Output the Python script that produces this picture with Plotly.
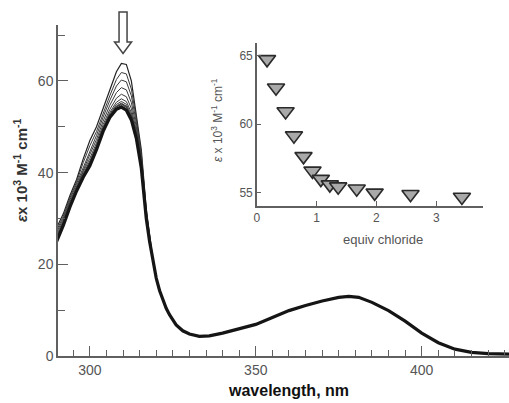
import plotly.graph_objects as go

# ---- data ----
# lowest spectrum (final, after chloride addition)
wl = [290, 292, 294, 296, 298, 300, 302, 304, 306, 308, 309.5, 311, 312.5, 314, 315.5,
      317, 318, 319, 320, 321, 322, 323, 324, 326, 328, 330, 333, 336, 340, 345, 350,
      355, 360, 365, 370, 375, 378, 381, 385, 390, 395, 400, 405, 410, 415, 420, 426.5]
eps_final = [25, 28.5, 32.5, 36, 39, 41.5, 45, 49, 52, 53.8, 54.3, 53.6, 51.5, 47.5, 41,
             30, 25, 20.5, 17, 14.3, 12.2, 10.4, 9, 6.8, 5.5, 4.8, 4.3, 4.4, 5.0, 5.9, 6.9,
             8.4, 9.9, 11.0, 12.0, 12.8, 13.0, 12.8, 11.7, 9.9, 7.6, 5.0, 2.9, 1.5, 0.8, 0.5, 0.4]
# highest spectrum (initial, no chloride)
eps_initial = [28, 31, 35, 38.5, 43, 47, 50, 54, 58, 62, 63.8, 63.6, 60, 53, 45,
               32, 26, 21, 17, 14.3, 12.2, 10.4, 9, 6.8, 5.5, 4.8, 4.3, 4.4, 5.0, 5.9, 6.9,
               8.4, 9.9, 11.0, 12.0, 12.8, 13.0, 12.8, 11.7, 9.9, 7.6, 5.0, 2.9, 1.5, 0.8, 0.5, 0.4]

# inset: titration
equiv = [0.17, 0.32, 0.48, 0.62, 0.78, 0.93, 1.07, 1.22, 1.36, 1.67, 1.97, 2.57, 3.43]
eps_310 = [64.73, 62.66, 60.93, 59.17, 57.66, 56.6, 56.0, 55.6, 55.45, 55.3, 55.0, 54.9, 54.7]

x_ticks_main = [300, 350, 400]
y_ticks_main = [0, 20, 40, 60]
x_ticks_inset = [0, 1, 2, 3]
y_ticks_inset = [55, 60, 65]

fig = go.Figure()

# family of spectra (one per titration point)
vmax, vmin = max(eps_310), min(eps_310)
n = len(eps_310)
for i, v in enumerate(eps_310):
    f = (v - vmin) / (vmax - vmin)
    ys = [b + f * (t - b) for b, t in zip(eps_final, eps_initial)]
    if i == n - 1:
        ln = dict(color="#151515", width=3.2)
    elif i == 0:
        ln = dict(color="#222222", width=1.2)
    else:
        ln = dict(color="#3a3a3a", width=1.0)
    fig.add_trace(go.Scatter(
        x=wl, y=ys, mode="lines", line=ln,
        hoverinfo="skip", showlegend=False, xaxis="x", yaxis="y"))

# inset points
fig.add_trace(go.Scatter(
    x=equiv, y=eps_310, mode="markers",
    marker=dict(symbol="triangle-down", size=15, color="#a9a9a9",
                line=dict(color="#2a2a2a", width=1.6)),
    showlegend=False, xaxis="x2", yaxis="y2", cliponaxis=False))

axis_col = "#606060"
tick_font = dict(family="Liberation Sans, Arial, sans-serif", size=14, color="#555555")
small_font = dict(family="Liberation Sans, Arial, sans-serif", size=12, color="#555555")

fig.update_layout(
    width=509, height=403,
    margin=dict(l=58, r=0, t=25, b=47),
    paper_bgcolor="white", plot_bgcolor="white",
    xaxis=dict(range=[290.4, 426.3], tickvals=x_ticks_main, ticks="inside", ticklen=10,
               tickwidth=1.3, tickcolor=axis_col, showline=True, linecolor=axis_col,
               linewidth=1.5, showgrid=False, zeroline=False, tickfont=tick_font,
               minor=dict(dtick=5, tick0=300, ticks="inside", ticklen=6, tickwidth=1.2,
                          tickcolor=axis_col, showgrid=False)),
    yaxis=dict(range=[0, 72.2], tickvals=y_ticks_main, ticks="inside", ticklen=10,
               tickwidth=1.3, tickcolor=axis_col, showline=True, linecolor=axis_col,
               linewidth=1.5, showgrid=False, zeroline=False, tickfont=tick_font,
               minor=dict(dtick=10, tick0=0, ticks="inside", ticklen=7, tickwidth=1.2,
                          tickcolor=axis_col, showgrid=False)),
    xaxis2=dict(domain=[0.441, 0.942], anchor="y2", range=[0, 3.78], tickvals=x_ticks_inset,
                ticks="inside", ticklen=5, tickwidth=1.2, tickcolor=axis_col, showline=True,
                linecolor=axis_col, linewidth=1.5, showgrid=False, zeroline=False,
                tickfont=small_font),
    yaxis2=dict(domain=[0.4536, 0.9456], anchor="x2", range=[54.05, 65.92],
                tickvals=y_ticks_inset, ticks="inside", ticklen=4, tickwidth=1.2,
                tickcolor=axis_col, showline=True, linecolor=axis_col, linewidth=1.5,
                showgrid=False, zeroline=False, tickfont=small_font),
)

# hollow arrow above the peak
fig.add_shape(type="path", xref="x", yref="paper", xsizemode="pixel", ysizemode="pixel",
              xanchor=310, yanchor=1,
              path="M -4,13 L 4,13 L 4,-17 L 8.5,-17 L 0,-28.5 L -8.5,-17 L -4,-17 Z",
              fillcolor="white", line=dict(color="#444444", width=1.5), layer="above")

fig.add_annotation(x=-0.0843, y=0.5615, xref="paper", yref="paper", textangle=-90,
                   showarrow=False, xanchor="center", yanchor="middle",
                   text="<b><i>ε</i>x 10<sup>3</sup> M<sup>-1</sup> cm<sup>-1</sup></b>",
                   font=dict(family="Liberation Sans, Arial, sans-serif", size=15, color="#333333"))
fig.add_annotation(x=0.512, y=-0.1037, xref="paper", yref="paper", showarrow=False,
                   xanchor="center", yanchor="middle", text="<b>wavelength, nm</b>",
                   font=dict(family="Liberation Sans, Arial, sans-serif", size=16, color="#111111"))
fig.add_annotation(x=0.3525, y=0.7127, xref="paper", yref="paper", textangle=-90,
                   showarrow=False, xanchor="center", yanchor="middle",
                   text="<i>ε</i> x 10<sup>3</sup> M<sup>-1</sup> cm<sup>-1</sup>",
                   font=dict(family="Liberation Sans, Arial, sans-serif", size=12, color="#555555"))
fig.add_annotation(x=0.7206, y=0.3529, xref="paper", yref="paper", showarrow=False,
                   xanchor="center", yanchor="middle", text="equiv chloride",
                   font=dict(family="Liberation Sans, Arial, sans-serif", size=13, color="#555555"))

fig.write_html("out.html")
